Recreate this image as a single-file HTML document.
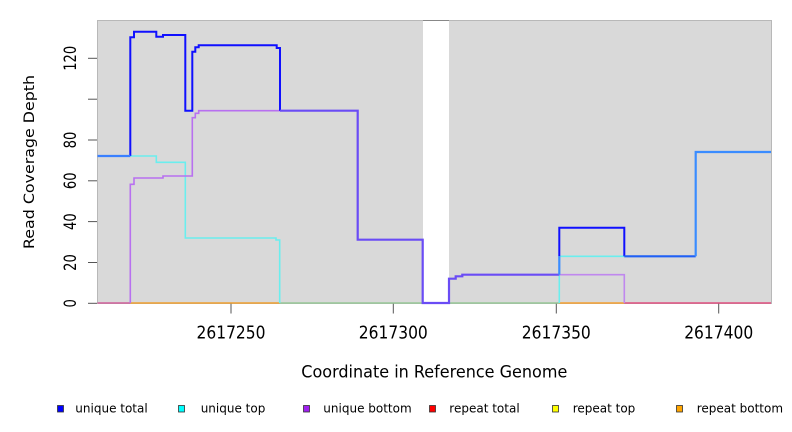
<!DOCTYPE html>
<html>
<head>
<meta charset="utf-8">
<style>
  html,body{margin:0;padding:0;background:#ffffff;}
  svg{display:block;}
  text{font-family:"DejaVu Sans","Liberation Sans",sans-serif;fill:#000;}
</style>
</head>
<body>
<svg width="792" height="432" viewBox="0 0 792 432" xmlns="http://www.w3.org/2000/svg">
  <!-- plot background -->
  <rect x="97.5" y="20.5" width="674" height="283" fill="#d9d9d9" stroke="#b8b8b8" stroke-width="1"/>
  <!-- white gap -->
  <rect x="423" y="21" width="26" height="282" fill="#ffffff"/>
  <line x1="423" y1="20.5" x2="449" y2="20.5" stroke="#888888" stroke-width="1"/>

  <!-- y ticks -->
  <g stroke="#555" stroke-width="1">
    <line x1="88" y1="303.3" x2="97" y2="303.3"/>
    <line x1="88" y1="262.5" x2="97" y2="262.5"/>
    <line x1="88" y1="221.6" x2="97" y2="221.6"/>
    <line x1="88" y1="180.8" x2="97" y2="180.8"/>
    <line x1="88" y1="140" x2="97" y2="140"/>
    <line x1="88" y1="99.2" x2="97" y2="99.2"/>
    <line x1="88" y1="58.3" x2="97" y2="58.3"/>
  </g>
  <!-- x ticks -->
  <g stroke="#555" stroke-width="1">
    <line x1="231" y1="303.5" x2="231" y2="313.5"/>
    <line x1="393.3" y1="303.5" x2="393.3" y2="313.5"/>
    <line x1="556.3" y1="303.5" x2="556.3" y2="313.5"/>
    <line x1="718.7" y1="303.5" x2="718.7" y2="313.5"/>
  </g>

  <!-- y tick labels (rotated) -->
  <g font-size="17">
    <text transform="translate(76,303.3) rotate(-90)" text-anchor="middle" textLength="8.4" lengthAdjust="spacingAndGlyphs">0</text>
    <text transform="translate(76,262.5) rotate(-90)" text-anchor="middle" textLength="16.7" lengthAdjust="spacingAndGlyphs">20</text>
    <text transform="translate(76,221.6) rotate(-90)" text-anchor="middle" textLength="16.7" lengthAdjust="spacingAndGlyphs">40</text>
    <text transform="translate(76,180.8) rotate(-90)" text-anchor="middle" textLength="16.7" lengthAdjust="spacingAndGlyphs">60</text>
    <text transform="translate(76,140) rotate(-90)" text-anchor="middle" textLength="16.7" lengthAdjust="spacingAndGlyphs">80</text>
    <text transform="translate(76,58.3) rotate(-90)" text-anchor="middle" textLength="25" lengthAdjust="spacingAndGlyphs">120</text>
  </g>

  <!-- x tick labels -->
  <g font-size="18">
    <text x="231" y="338.3" text-anchor="middle" textLength="69" lengthAdjust="spacingAndGlyphs">2617250</text>
    <text x="393.3" y="338.3" text-anchor="middle" textLength="69" lengthAdjust="spacingAndGlyphs">2617300</text>
    <text x="556.3" y="338.3" text-anchor="middle" textLength="69" lengthAdjust="spacingAndGlyphs">2617350</text>
    <text x="718.7" y="338.3" text-anchor="middle" textLength="69" lengthAdjust="spacingAndGlyphs">2617400</text>
  </g>

  <!-- axis titles -->
  <text x="301.3" y="377.3" font-size="16.5" textLength="266" lengthAdjust="spacingAndGlyphs">Coordinate in Reference Genome</text>
  <text transform="translate(33.8,162) rotate(-90)" text-anchor="middle" font-size="14" textLength="174" lengthAdjust="spacingAndGlyphs">Read Coverage Depth</text>

  <!-- bottom zero lines (repeat series) -->
  <g stroke-width="1.6" fill="none">
    <line x1="97.5" y1="303" x2="130.3" y2="303" stroke="#d0609a"/>
    <line x1="130.3" y1="303" x2="279.7" y2="303" stroke="#f0a030"/>
    <line x1="279.7" y1="303" x2="423" y2="303" stroke="#98c898"/>
    <line x1="449" y1="303" x2="559.3" y2="303" stroke="#98c898"/>
    <line x1="559.3" y1="303" x2="624.3" y2="303" stroke="#f5a030"/>
    <line x1="624.3" y1="303" x2="771" y2="303" stroke="#e05080"/>
  </g>

  <!-- unique top (cyan) -->
  <g fill="none" stroke="#6aeeee" stroke-width="1.6" stroke-linejoin="miter">
    <polyline points="97.5,156 156.3,156 156.3,162.3 185.3,162.3 185.3,238 276,238 276,240 279.7,240 279.7,303"/>
    <polyline points="559.3,303 559.3,256.3 624.3,256.3"/>
  </g>

  <!-- unique bottom (purple) -->
  <g fill="none" stroke="#b870f0" stroke-width="1.6">
    <polyline points="130.3,303 130.3,184.3 134,184.3 134,178 163,178 163,176 192.3,176 192.3,117.7 195.3,117.7 195.3,113.3 198.7,113.3 198.7,110.7 280,110.7"/>
    <polyline points="559.3,274.7 624.3,274.7 624.3,303" stroke="#c088ee"/>
  </g>

  <!-- unique total (blue) -->
  <g fill="none" stroke="#1010ff" stroke-width="2">
    <polyline points="130.3,156 130.3,37.3 134,37.3 134,31.7 156.3,31.7 156.3,36.7 163,36.7 163,35 185.3,35 185.3,110.7 192.3,110.7 192.3,51.7 195.3,51.7 195.3,47.3 198.7,47.3 198.7,45.3 276.7,45.3 276.7,48 280,48 280,110.7"/>
    <polyline points="559.3,256.3 559.3,227.7 624.3,227.7 624.3,256.3"/>
  </g>

  <!-- overlaps -->
  <g fill="none" stroke-width="2.2">
    <polyline stroke="#6a4cf5" points="280,110.7 357.7,110.7 357.7,239.7 422.7,239.7 422.7,303 449,303 449,278.7 455.7,278.7 455.7,276.3 462.3,276.3 462.3,274.7 559.3,274.7"/>
    <polyline stroke="#3a80ff" points="97.5,156 130.3,156"/>
    <polyline stroke="#3a8cff" points="559.3,274.7 559.3,256.3"/>
    <polyline stroke="#2060f5" points="624.3,256.3 695.7,256.3"/>
    <polyline stroke="#3a8cff" points="695.7,256.3 695.7,152 771,152"/>
  </g>

  <!-- legend -->
  <g stroke="#333" stroke-width="0.8">
    <rect x="57.5" y="405.5" width="6" height="6.5" fill="#0000ff"/>
    <rect x="178.5" y="405.5" width="6" height="6.5" fill="#00ffff"/>
    <rect x="303.5" y="405.5" width="6" height="6.5" fill="#a020f0"/>
    <rect x="429.5" y="405.5" width="6" height="6.5" fill="#ff0000"/>
    <rect x="552.5" y="405.5" width="6" height="6.5" fill="#ffff00"/>
    <rect x="676.5" y="405.5" width="6" height="6.5" fill="#ffa500"/>
  </g>
  <g font-size="12">
    <text x="75.3" y="412.5">unique total</text>
    <text x="200.7" y="412.5">unique top</text>
    <text x="323.3" y="412.5">unique bottom</text>
    <text x="449.3" y="412.5">repeat total</text>
    <text x="572.7" y="412.5">repeat top</text>
    <text x="696.7" y="412.5">repeat bottom</text>
  </g>
</svg>
</body>
</html>
